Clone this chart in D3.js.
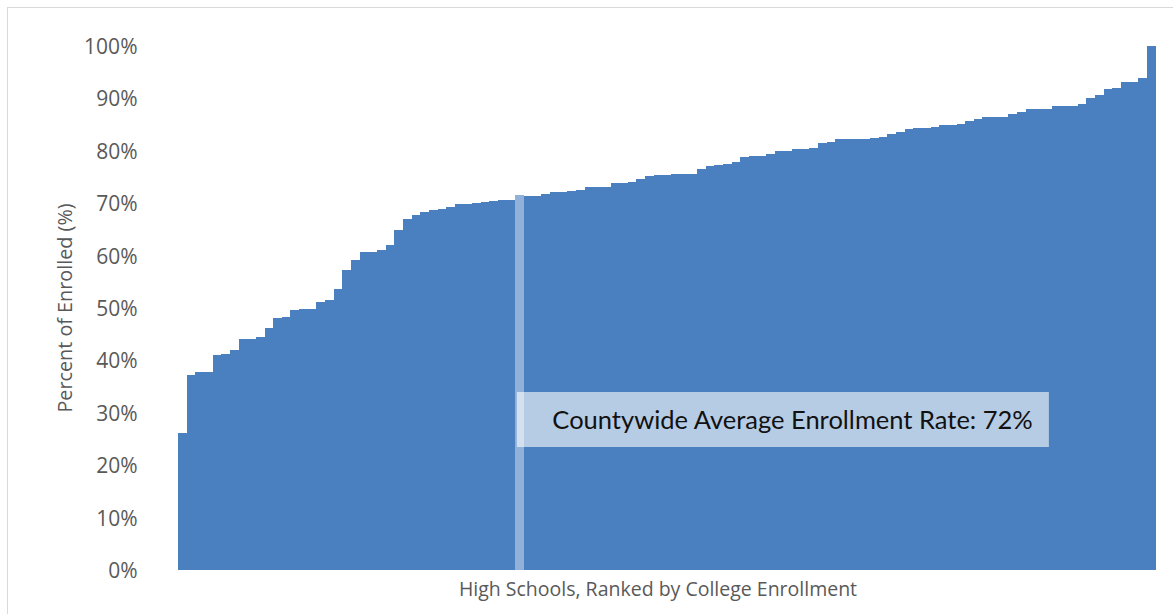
<!DOCTYPE html>
<html>
<head>
<meta charset="utf-8">
<script src="https://cdn.jsdelivr.net/npm/d3@7"></script>
<style>
  html, body { margin: 0; padding: 0; background: #ffffff; }
  svg { display: block; }
</style>
</head>
<body>
<svg id="chart" width="1173" height="614"></svg>
<script>
// College enrollment rate for each high school, ranked from lowest to highest.
const schoolRates = [
  0.261, 0.372, 0.377, 0.377, 0.410, 0.412, 0.420, 0.440, 0.441, 0.445,
  0.461, 0.480, 0.482, 0.496, 0.498, 0.498, 0.511, 0.515, 0.537, 0.573,
  0.592, 0.606, 0.607, 0.610, 0.620, 0.649, 0.670, 0.678, 0.684, 0.687,
  0.688, 0.693, 0.698, 0.699, 0.701, 0.702, 0.705, 0.707, 0.707,
  0.713, 0.713, 0.718, 0.721, 0.721, 0.723, 0.726, 0.730, 0.731, 0.731,
  0.738, 0.738, 0.740, 0.746, 0.752, 0.753, 0.753, 0.755, 0.755, 0.755,
  0.765, 0.771, 0.773, 0.774, 0.779, 0.788, 0.790, 0.790, 0.794, 0.799,
  0.799, 0.803, 0.803, 0.805, 0.814, 0.817, 0.822, 0.822, 0.823, 0.823,
  0.824, 0.827, 0.833, 0.836, 0.842, 0.844, 0.844, 0.846, 0.849, 0.850,
  0.852, 0.856, 0.860, 0.864, 0.864, 0.865, 0.871, 0.874, 0.879, 0.880,
  0.880, 0.885, 0.885, 0.886, 0.889, 0.900, 0.906, 0.917, 0.920, 0.931,
  0.931, 0.938, 1.000
];

// Countywide average, shown as its own bar at its place in the ranking.
const countywideAverage = 0.716;
const averageRank = 39;
const averageLabel = "Countywide Average Enrollment Rate: ";

const yTicks = [0, 0.1, 0.2, 0.3, 0.4, 0.5, 0.6, 0.7, 0.8, 0.9, 1.0];
const yAxisTitle = "Percent of Enrolled (%)";
const xAxisTitle = "High Schools, Ranked by College Enrollment";

// Combined ranking: schools with the average inserted at its rank.
const bars = schoolRates.map(v => ({ value: v, average: false }));
bars.splice(averageRank, 0, { value: countywideAverage, average: true });

const svg = d3.select("#chart");
const plot = { left: 178, right: 1155.5, top: 46, bottom: 570 };

// Outer chart frame (runs off the right and bottom edges)
svg.append("rect")
  .attr("x", 7.5).attr("y", 7.5)
  .attr("width", 1180).attr("height", 620)
  .attr("fill", "#ffffff")
  .attr("stroke", "#d9d9d9")
  .attr("stroke-width", 1);

const x = d3.scaleBand()
  .domain(d3.range(bars.length))
  .range([plot.left, plot.right])
  .paddingInner(0).paddingOuter(0);

const y = d3.scaleLinear()
  .domain([0, 1])
  .range([plot.bottom, plot.top]);

// Bars (no gaps, forming a step profile)
svg.append("g")
  .selectAll("rect")
  .data(bars)
  .join("rect")
  .attr("x", (d, i) => x(i))
  .attr("y", d => y(d.value))
  .attr("width", x.bandwidth() + 0.4)
  .attr("height", d => y(0) - y(d.value))
  .attr("fill", d => d.average ? "#92b1d9" : "#4a80bf")
  .attr("shape-rendering", "crispEdges");

// Y axis: labels only
const yAxis = d3.axisLeft(y)
  .tickValues(yTicks)
  .tickFormat(d3.format(".0%"))
  .tickSize(0)
  .tickPadding(0);

const yg = svg.append("g")
  .attr("transform", `translate(${137.5},0)`)
  .call(yAxis);
yg.select(".domain").remove();
yg.selectAll("text")
  .attr("fill", "#595959")
  .attr("font-family", "'Open Sans', 'Noto Sans', sans-serif")
  .attr("font-size", 21)
  .attr("dy", "0.36em");

// Axis titles
svg.append("text")
  .attr("transform", `translate(72,${(plot.top + plot.bottom) / 2}) rotate(-90)`)
  .attr("text-anchor", "middle")
  .attr("fill", "#595959")
  .attr("font-family", "'Open Sans', 'Noto Sans', sans-serif")
  .attr("font-size", 19.8)
  .text(yAxisTitle);

svg.append("text")
  .attr("x", 658)
  .attr("y", 596)
  .attr("text-anchor", "middle")
  .attr("fill", "#595959")
  .attr("font-family", "'Open Sans', 'Noto Sans', sans-serif")
  .attr("font-size", 19.5)
  .text(xAxisTitle);

// Callout for the countywide average
const avgX = x(averageRank);
const box = svg.append("g");
box.append("rect")
  .attr("x", avgX + 1.5)
  .attr("y", 392)
  .attr("width", 532)
  .attr("height", 55)
  .attr("fill", "#ffffff")
  .attr("fill-opacity", 0.6);
box.append("text")
  .attr("x", avgX + 37)
  .attr("y", 420)
  .attr("dy", "0.36em")
  .attr("text-anchor", "start")
  .attr("fill", "#111111")
  .attr("font-family", "Lato, 'Open Sans', sans-serif")
  .attr("font-size", 25.5)
  .text(averageLabel + d3.format(".0%")(countywideAverage));
</script>
</body>
</html>
